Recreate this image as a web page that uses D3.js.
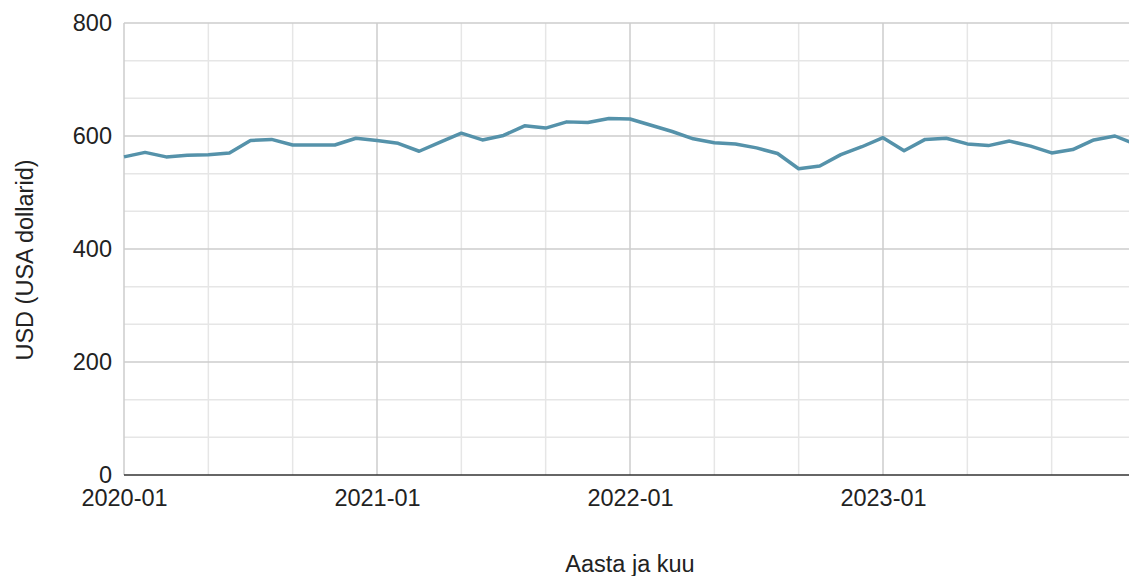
<!DOCTYPE html>
<html>
<body style="margin: 0">
  <script src="https://cdnjs.cloudflare.com/ajax/libs/d3/7.8.5/d3.min.js"></script>

  <script>
    const MONTHS = [
      "2020-01", "2020-02", "2020-03", "2020-04", "2020-05", "2020-06",
      "2020-07", "2020-08", "2020-09", "2020-10", "2020-11", "2020-12",
      "2021-01", "2021-02", "2021-03", "2021-04", "2021-05", "2021-06",
      "2021-07", "2021-08", "2021-09", "2021-10", "2021-11", "2021-12",
      "2022-01", "2022-02", "2022-03", "2022-04", "2022-05", "2022-06",
      "2022-07", "2022-08", "2022-09", "2022-10", "2022-11", "2022-12",
      "2023-01", "2023-02", "2023-03", "2023-04", "2023-05", "2023-06",
      "2023-07", "2023-08", "2023-09", "2023-10", "2023-11", "2023-12",
      "2024-01"
    ];

    const USD = [
      563, 571, 563, 566, 567, 570, 592, 594, 584, 584, 584, 596,
      592, 587, 573, 589, 605, 593, 601, 618, 614, 625, 624, 631,
      630, 619, 608, 595, 588, 586, 579, 569, 542, 547, 567, 581,
      597, 574, 594, 596, 586, 583, 591, 582, 570, 576, 593, 600,
      585
    ];

    const X_TICKS = ["2020-01", "2021-01", "2022-01", "2023-01"];
    const Y_TICKS = [0, 200, 400, 600, 800];

    const width = 1129;
    const height = 576;
    const plotLeft = 124, plotTop = 23, plotBottom = 475;
    const plotRight = 1136;
    const fontSize = "23.5px";

    const svg = d3.select("body").append("svg")
      .attr("width", width)
      .attr("height", height)
      .style("font-family", "Arial, 'Liberation Sans', sans-serif");

    const x = d3.scalePoint().domain(MONTHS).range([plotLeft, plotRight]);
    const y = d3.scaleLinear().domain([0, 800]).range([plotBottom, plotTop]);

    // minor gridlines
    const minorY = d3.range(0, 801, 800 / 12).filter(v => Math.round(v) % 200 !== 0);
    svg.append("g").selectAll("line")
      .data(minorY)
      .enter().append("line")
      .attr("x1", plotLeft).attr("x2", plotRight)
      .attr("y1", d => y(d)).attr("y2", d => y(d))
      .style("stroke", "#e6e6e6").style("stroke-width", 1.5);

    const minorX = MONTHS.filter((m, i) => i % 4 === 0 && i % 12 !== 0);
    svg.append("g").selectAll("line")
      .data(minorX)
      .enter().append("line")
      .attr("x1", d => x(d)).attr("x2", d => x(d))
      .attr("y1", plotTop).attr("y2", plotBottom)
      .style("stroke", "#e6e6e6").style("stroke-width", 1.5);

    // major gridlines
    svg.append("g").selectAll("line")
      .data(Y_TICKS.filter(d => d !== 0))
      .enter().append("line")
      .attr("x1", plotLeft).attr("x2", plotRight)
      .attr("y1", d => y(d)).attr("y2", d => y(d))
      .style("stroke", "#cccccc").style("stroke-width", 1.5);

    svg.append("g").selectAll("line")
      .data(X_TICKS.concat(["2024-01"]))
      .enter().append("line")
      .attr("x1", d => x(d)).attr("x2", d => x(d))
      .attr("y1", plotTop).attr("y2", plotBottom)
      .style("stroke", "#cccccc").style("stroke-width", 1.5);

    // baseline
    svg.append("line")
      .attr("x1", plotLeft).attr("x2", plotRight)
      .attr("y1", y(0)).attr("y2", y(0))
      .style("stroke", "#333333").style("stroke-width", 1.5);

    // axes
    const xAxis = d3.axisBottom(x).tickValues(X_TICKS).tickSize(0).tickPadding(14);
    const gx = svg.append("g").attr("transform", `translate(0,${plotBottom})`).call(xAxis);
    gx.select(".domain").remove();
    gx.selectAll("text").style("font-size", fontSize).style("fill", "#222");

    const yAxis = d3.axisLeft(y).tickValues(Y_TICKS).tickSize(0).tickPadding(12);
    const gy = svg.append("g").attr("transform", `translate(${plotLeft},0)`).call(yAxis);
    gy.select(".domain").remove();
    gy.selectAll("text").style("font-size", fontSize).style("fill", "#222");

    // line
    const line = d3.line()
      .x((d, i) => x(MONTHS[i]))
      .y(d => y(d));

    svg.append("path")
      .datum(USD)
      .attr("d", line)
      .style("fill", "none")
      .style("stroke", "#5592aa")
      .style("stroke-width", 3.5)
      .style("stroke-linejoin", "round");

    // axis titles
    svg.append("text")
      .attr("x", (plotLeft + plotRight) / 2)
      .attr("y", 572)
      .attr("text-anchor", "middle")
      .style("font-size", fontSize)
      .style("fill", "#222")
      .text("Aasta ja kuu");

    svg.append("text")
      .attr("transform", `translate(33,${(plotTop + plotBottom) / 2 + 11}) rotate(-90)`)
      .attr("text-anchor", "middle")
      .style("font-size", fontSize)
      .style("fill", "#222")
      .text("USD (USA dollarid)");
  </script>
</body>
</html>
